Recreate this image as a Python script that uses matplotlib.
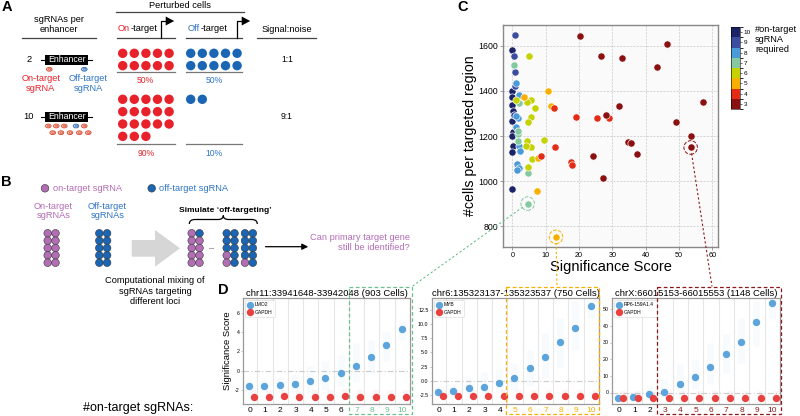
import matplotlib
matplotlib.use('Agg')
import matplotlib.pyplot as plt
import numpy as np
from matplotlib.patches import Circle, Rectangle, Polygon, Ellipse, PathPatch
from matplotlib.path import Path
import matplotlib.colors as mcolors
import matplotlib.cm as cm

plt.rcParams['font.family'] = ['Liberation Sans', 'DejaVu Sans']
plt.rcParams['axes.unicode_minus'] = False

# ---------------- DATA ----------------
# Panel A
sgrna_per_enhancer = [2, 10]
on_target_cells = [10, 18]
off_target_cells = [10, 2]
on_pct = ["50%", "90%"]
off_pct = ["50%", "10%"]
signal_noise = ["1:1", "9:1"]

# Panel B  (columns of 5 sgRNAs, 'P' = on-target, 'B' = off-target)
mix_group1 = ["PPPPP", "BPPPP"]
mix_group2 = ["BBBPP", "BBBBB"]
mix_group3 = ["BBBBP", "BBBBB"]

# Panel C: (significance score, #cells) by #on-target sgRNA required
c_x = {
    3: [20.3, 46.3, 26.5, 33.0, 43.5, 57.3, 31.9, 28.1, 49.0, 53.5, 53.5, 34.6, 35.7, 37.5, 24.2, 27.2],
    4: [29.0, 19.0, 25.5, 12.5, 12.7, 8.7, 17.7, 17.8],
    5: [10.6, 11.5, 7.5, 13.1, 3.4, 7.6],
    6: [4.9, 5.7, 1.2, 4.4, 6.9, 5.7, 4.7, 4.4, 9.5, 5.5, 4.2, 6.0, 4.7],
    7: [0.4, 2.0, 1.7, 1.7, 4.7, 4.6, 1.8],
    8: [1.0, 1.9, 1.7, 1.0, 2.0, 2.2, 1.4, 1.9, 1.4, 1.0],
    9: [0.7, 0.4, 0.8, 0.8, 0.6],
    10: [0.0, 0.0, 0.0, 0.0, 0.0, 0.2, 0.0, 0.2, 0.0, 0.0, 0.3],
}
c_y = {
    3: [1643, 1607, 1557, 1547, 1506, 1352, 1332, 1292, 1262, 1199, 1149, 1172, 1168, 1121, 1110, 1014],
    4: [1282, 1286, 1278, 1326, 1149, 1109, 1085, 1072],
    5: [1401, 1333, 954, 752, 1375, 1103],
    6: [1557, 1360, 1360, 1350, 1324, 1285, 1260, 1179, 1183, 1150, 1157, 1096, 1061],
    7: [1516, 1345, 1210, 1179, 1036, 900, 1222],
    8: [1435, 1380, 1282, 1239, 1156, 1135, 1075, 1060, 1050, 1290],
    9: [1650, 1557, 1485, 1422, 1293],
    10: [1582, 1400, 1372, 1338, 1267, 1219, 1200, 1156, 1130, 963, 1310],
}
c_colors = {10: '#1c2468', 9: '#3c4da0', 8: '#4c9bd9', 7: '#86c8a0',
            6: '#c4d200', 5: '#f8b000', 4: '#e42b15', 3: '#8a1111'}
highlight = [(4.6, 900, 7), (13.1, 752, 5), (53.5, 1149, 3)]

# Panel D
n_on = list(range(11))
lmo2 = [-1.6, -1.6, -1.5, -1.35, -1.1, -0.75, -0.2, 0.45, 1.4, 2.6, 4.25]
gapdh1 = [-2.7, -2.7, -2.65, -2.72, -2.7, -2.7, -2.6, -2.7, -2.7, -2.7, -2.7]
lmo2_lo = [-2.2, -2.2, -2.2, -2.2, -2.3, -2.0, -1.6, -1.2, -0.2, 1.0, 3.2]
lmo2_hi = [-1.0, -0.9, -0.7, -0.4, 0.5, 1.0, 1.6, 2.8, 3.2, 4.0, 5.0]
myb = [-2.05, -1.75, -1.35, -1.05, -0.37, 0.5, 2.3, 4.25, 6.9, 9.3, 13.2]
gapdh2 = [-2.75, -2.75, -2.75, -2.75, -2.75, -2.75, -2.75, -2.75, -2.75, -2.75, -2.75]
myb_lo = [-2.8, -2.6, -2.4, -2.2, -2.0, -1.8, -1.0, 0.5, 2.5, 5.5, 11.0]
myb_hi = [-1.0, -0.5, 0.5, 1.5, 2.0, 3.0, 5.5, 8.5, 11.0, 14.0, 14.3]
rp6 = [-3.0, -2.6, -1.0, 0.6, 4.9, 9.5, 15.2, 23.3, 30.6, 42.1, 53.7]
gapdh3 = [-3.0, -3.0, -3.0, -3.0, -3.0, -3.0, -3.0, -3.0, -3.0, -3.0, -3.0]
rp6_lo = [-4.0, -4.0, -3.5, -3.0, -2.0, 2.0, 5.0, 12.0, 18.0, 28.0, 45.0]
rp6_hi = [-1.0, 0.5, 4.0, 8.0, 17.0, 20.0, 30.0, 35.0, 45.0, 55.0, 56.0]
d_titles = ["chr11:33941648-33942048 (903 Cells)",
            "chr6:135323137-135323537 (750 Cells)",
            "chrX:66015153-66015553 (1148 Cells)"]
d_genes = ["LMO2", "MYB", "RP6-159A1.4"]
d_threshold = [7, 5, 3]

# ---------------- LAYOUT ----------------
W, H = 800, 416
fig = plt.figure(figsize=(8, 4.16), dpi=100)


def rect(l, t, r, b):
    return [l / W, 1 - b / H, (r - l) / W, (b - t) / H]


# ----- Panel C -----
axc = fig.add_axes(rect(503, 25, 718, 247))
axc.set_facecolor('#fafafa')
for k in [10, 9, 8, 7, 6, 5, 4, 3]:
    axc.scatter(c_x[k], c_y[k], s=27, color=c_colors[k], edgecolors='white',
                linewidths=0.45, zorder=3)
for hx, hy, hk in highlight:
    axc.scatter([hx], [hy], s=95, facecolors='none', edgecolors=c_colors[hk],
                linewidths=0.7, linestyles='--', zorder=4)
axc.set_xlim(-2.8, 61.7)
axc.set_ylim(707, 1693)
axc.set_xticks(range(0, 61, 10))
axc.set_yticks(range(800, 1601, 200))
axc.grid(True, color='#cfcfcf', ls=(0, (2.5, 1.5)), lw=0.6)
axc.set_axisbelow(True)
axc.tick_params(axis='x', labelsize=5.2, length=2, width=0.5, pad=1.5, color='#777')
axc.tick_params(axis='y', labelsize=6.3, length=2, width=0.5, pad=1.5, color='#777')
for s in axc.spines.values():
    s.set_color('#888888')
    s.set_linewidth(1.0)
axc.set_xlabel('Significance Score', fontsize=10.5, labelpad=0.5)
axc.set_ylabel('#cells per targeted region', fontsize=10.2, labelpad=1)

# colorbar
cax = fig.add_axes(rect(731, 27, 740, 109))
levels = list(range(3, 11))
cmap = mcolors.ListedColormap([c_colors[k] for k in levels])
norm = mcolors.BoundaryNorm(np.arange(2.5, 11.5, 1), cmap.N)
cb = fig.colorbar(cm.ScalarMappable(norm=norm, cmap=cmap), cax=cax, ticks=levels)
cb.ax.tick_params(labelsize=4.6, length=1.5, width=0.4, pad=1)
cb.outline.set_linewidth(0.4)

# ----- Panel D -----
d_boxes = [(243, 298, 410, 404), (432, 298, 599, 404), (612, 298, 780, 404)]
d_vals = [lmo2, myb, rp6]
d_gapdh = [gapdh1, gapdh2, gapdh3]
d_lo = [lmo2_lo, myb_lo, rp6_lo]
d_hi = [lmo2_hi, myb_hi, rp6_hi]
d_ylim = [(-3.45, 7.5), (-4.1, 14.6), (-6.9, 56.7)]
d_yticks = [[-2, 0, 2, 4, 6], [-2.5, 0, 2.5, 5, 7.5, 10, 12.5], [0, 10, 20, 30, 40, 50]]
d_yfmt = ['{:.0f}', '{:.1f}', '{:.0f}']
d_thr_color = ['#6cc08e', '#f5b000', '#8b1a1a']
blue_d = '#5ba4dc'
red_d = '#e8413f'
d_axes = []
for i in range(3):
    ax = fig.add_axes(rect(*d_boxes[i]))
    d_axes.append(ax)
    x = np.array(n_on)
    for b in x[:-1]:
        ax.axvline(b + 0.5, color='#e6e6e6', lw=0.8, zorder=0)
    ax.axhline(0, color='#cccccc', lw=0.8, ls=(0, (5, 2, 1, 2)), zorder=0)
    ax.vlines(x - 0.05, d_lo[i], d_hi[i], color=blue_d, alpha=0.045, lw=5, zorder=1)
    g = np.array(d_gapdh[i])
    span = (d_ylim[i][1] - d_ylim[i][0]) * 0.06
    ax.vlines(x + 0.25, g - span * 0.4, g + span, color=red_d, alpha=0.05, lw=4, zorder=1)
    ax.scatter(x - 0.05, d_vals[i], s=28, color=blue_d, label=d_genes[i], zorder=3, linewidths=0)
    ax.scatter(x + 0.25, g, s=28, color=red_d, label='GAPDH', zorder=3, linewidths=0)
    ax.set_xlim(-0.45, 10.5)
    ax.set_ylim(*d_ylim[i])
    ax.set_xticks(x)
    ax.set_xticklabels([str(v) for v in n_on])
    for lab, v in zip(ax.get_xticklabels(), n_on):
        if v >= d_threshold[i]:
            lab.set_color(d_thr_color[i])
    ax.set_yticks(d_yticks[i])
    ax.set_yticklabels([d_yfmt[i].format(v) for v in d_yticks[i]])
    ax.tick_params(axis='x', labelsize=6, length=0, pad=2)
    ax.tick_params(axis='y', labelsize=3.8, length=1.5, width=0.4, pad=1, color='#999')
    for s in ax.spines.values():
        s.set_color('#999999')
        s.set_linewidth(0.9)
    ax.set_title(d_titles[i], fontsize=6.8, pad=1.5)
    leg = ax.legend(loc='upper left', fontsize=3.6, markerscale=1.0, frameon=True,
                    borderpad=0.5, handletextpad=0.5, labelspacing=0.4,
                    borderaxespad=0.4, handlelength=1.0)
    leg.get_frame().set_linewidth(0.4)
    leg.get_frame().set_edgecolor('#cccccc')
d_axes[0].set_ylabel('Significance Score', fontsize=6.8, labelpad=2)

# ----- Overlay (schematics, labels, connectors) -----
ov = fig.add_axes([0, 0, 1, 1], zorder=10)
ov.set_xlim(0, W)
ov.set_ylim(H, 0)
ov.axis('off')
ov.patch.set_alpha(0)

RED = '#e8222a'
BLUE = '#2e74c4'
PURPLE = '#b36db5'
DBLUE = '#1a66b5'
FS = 6.7

# panel letters
for lab, px, py in [('A', 6.7, 6.7), ('B', 6.7, 182), ('C', 463, 7.3), ('D', 223, 290)]:
    ov.text(px, py, lab, fontsize=10.5, fontweight='bold', ha='center', va='center')

# --- Panel A headers ---
ov.text(59, 24.5, 'sgRNAs per\nenhancer', fontsize=FS, ha='center', va='center', linespacing=1.15)
ov.plot([22, 96], [37.7, 37.7], color='#444', lw=0.9)
ov.text(180, 5, 'Perturbed cells', fontsize=FS, ha='center', va='center')
ov.plot([116, 244], [11.7, 11.7], color='#444', lw=0.9)
t1 = ov.text(118, 33, 'On', fontsize=FS, color=RED, ha='left', va='bottom')
ov.annotate('-target', xy=(1, 0), xycoords=t1, fontsize=FS, ha='left', va='bottom')
t2 = ov.text(188, 33, 'Off', fontsize=FS, color=BLUE, ha='left', va='bottom')
ov.annotate('-target', xy=(1, 0), xycoords=t2, fontsize=FS, ha='left', va='bottom')
ov.text(287, 29, 'Signal:noise', fontsize=FS, ha='center', va='center')
ov.plot([256.7, 316], [37.7, 37.7], color='#444', lw=0.9)
for lx0, lx1, ax_ in [(116.7, 175, 160.7), (186, 242, 236.7)]:
    ov.plot([lx0, lx1], [37.7, 37.7], color='#444', lw=0.9)
    ov.plot([ax_, ax_, ax_ + 5], [37.7, 21, 21], color='black', lw=0.9)
    ov.add_patch(Polygon([[ax_ + 5, 16.5], [ax_ + 13.5, 21], [ax_ + 5, 25.5]], closed=True,
                         color='black', lw=0))

# rows
row_y0 = [53.3, 99.3]
row_line = [71.7, 144]
row_pct = [80.7, 154]
label_y = [59.5, 116.7]
for r in range(2):
    ov.text(29, label_y[r], str(sgrna_per_enhancer[r]), fontsize=FS, ha='center', va='center')
    by = label_y[r]
    ov.plot([41, 92], [by, by], color='black', lw=0.8)
    ov.add_patch(Rectangle((45, by - 5), 43.3, 10, color='black', lw=0))
    ov.text(66.6, by, 'Enhancer', fontsize=6.3, color='white', ha='center', va='center')
    for cnt, x0, col in [(on_target_cells[r], 122.7, RED), (off_target_cells[r], 190.7, DBLUE)]:
        for k in range(cnt):
            cx = x0 + (k % 5) * 11.6
            cy = row_y0[r] + (k // 5) * 12.35
            ov.add_patch(Circle((cx, cy), 4.7, color=col, lw=0))
    ov.plot([116.7, 175], [row_line[r]] * 2, color='#777', lw=0.9)
    ov.plot([186, 242], [row_line[r]] * 2, color='#777', lw=0.9)
    ov.text(145.7, row_pct[r], on_pct[r], fontsize=6.2, color=RED, ha='center', va='center')
    ov.text(214, row_pct[r], off_pct[r], fontsize=6.2, color=BLUE, ha='center', va='center')
    ov.text(287, label_y[r], signal_noise[r], fontsize=6.2, ha='center', va='center')


def sg(x, y, on):
    fc = '#f6c7bd' if on else '#bcd3ee'
    ec = '#d8442a' if on else '#2f68ad'
    ov.add_patch(Ellipse((x, y), 5.6, 3.8, facecolor=fc, edgecolor=ec, lw=0.6))
    ov.add_patch(Ellipse((x + 0.4, y), 2.6, 1.6, facecolor='none', edgecolor=ec, lw=0.4))


sg(49.3, 69.3, True)
sg(84.3, 69.3, False)
ov.text(40.7, 83.5, 'On-target\nsgRNA', fontsize=FS, color=RED, ha='center', va='center', linespacing=1.1)
ov.text(88.3, 83.5, 'Off-target\nsgRNA', fontsize=FS, color=BLUE, ha='center', va='center', linespacing=1.1)
row2a = [48.3, 56.3, 64.3, 76, 84.3]
row2b = [52.7, 61, 70, 79.3, 88.3]
for j, xx in enumerate(row2a):
    sg(xx, 126, j != 3)
for xx in row2b:
    sg(xx, 132.7, True)

# --- Panel B ---
ov.add_patch(Circle((45, 188.3), 3.8, facecolor=PURPLE, edgecolor='#333', lw=0.4))
ov.text(53.3, 188.3, 'on-target sgRNA', fontsize=FS, color=PURPLE, ha='left', va='center')
ov.add_patch(Circle((151.7, 188.3), 3.8, facecolor=DBLUE, edgecolor='#333', lw=0.4))
ov.text(159, 188.3, 'off-target sgRNA', fontsize=FS, color=BLUE, ha='left', va='center')
ov.text(53.3, 211, 'On-target\nsgRNAs', fontsize=FS, color=PURPLE, ha='center', va='center', linespacing=1.1)
ov.text(107.3, 211, 'Off-target\nsgRNAs', fontsize=FS, color=BLUE, ha='center', va='center', linespacing=1.1)

rows_b = [233.3, 240.7, 248, 255.3, 262.7]


def grid(x0, cols):
    for ci, colstr in enumerate(cols):
        for ri, ch in enumerate(colstr):
            fc = PURPLE if ch == 'P' else DBLUE
            ov.add_patch(Circle((x0 + ci * 7.8, rows_b[ri]), 3.8, facecolor=fc, edgecolor='#333', lw=0.4))


grid(47.7, ["PPPPP", "PPPPP"])
grid(99.3, ["BBBBB", "BBBBB"])
grid(191.7, mix_group1)
grid(226.7, mix_group2)
grid(245, mix_group3)
ov.add_patch(Polygon([[131.7, 240], [155, 240], [155, 230], [180, 248.3], [155, 266.7],
                      [155, 256.7], [131.7, 256.7]], closed=True, color='#d6d6d6', lw=0))
ov.plot([208.5, 213], [248.3, 248.3], color='#aaa', lw=0.8)
ov.text(225, 210.7, 'Simulate \u2018off-targeting\u2019', fontsize=6, fontweight='bold', ha='center', va='center')
brace = Path([(189.3, 224), (189.3, 219.5), (195, 219.5), (218, 219.5), (223.3, 219.5), (223.3, 215.5),
              (223.3, 219.5), (228.6, 219.5), (251.6, 219.5), (257.3, 219.5), (257.3, 224)],
             [Path.MOVETO, Path.CURVE3, Path.CURVE3, Path.LINETO, Path.CURVE3, Path.CURVE3,
              Path.CURVE3, Path.CURVE3, Path.LINETO, Path.CURVE3, Path.CURVE3])
ov.add_patch(PathPatch(brace, facecolor='none', edgecolor='black', lw=0.9))
ov.annotate('', xy=(311, 246.7), xytext=(262.7, 246.7),
            arrowprops=dict(arrowstyle='-|>', color='black', lw=0.9, mutation_scale=9))
ov.text(410, 242.5, 'Can primary target gene\nstill be identified?', fontsize=FS, color=PURPLE,
        ha='right', va='center', linespacing=1.2, clip_on=False)
ov.text(155, 291, 'Computational mixing of\nsgRNAs targeting\ndifferent loci', fontsize=FS,
        ha='center', va='center', linespacing=1.15)

# --- Panel C legend title ---
ov.text(755, 24.5, '#on-target\nsgRNA\nrequired', fontsize=6.6, ha='left', va='top', linespacing=1.15)

# --- Panel D label & boxes ---
ov.text(193, 408.5, '#on-target sgRNAs:', fontsize=9, ha='right', va='center')
box_specs = [(349, 412, d_thr_color[0]), (506, 599, d_thr_color[1]), (657, 781, d_thr_color[2])]
targets = [(412, 286.5), (557, 286.5), (712, 286.5)]
for (bl, br, col), (hx, hy, hk), (tx, ty) in zip(box_specs, highlight, targets):
    ov.add_patch(Rectangle((bl, 286.5), br - bl, 414 - 286.5, facecolor='none', edgecolor=col,
                           lw=0.9, ls=(0, (3, 2))))
    dx, dy = axc.transData.transform((hx, hy))
    cx, cy = dx, H - dy
    v = np.array([tx - cx, ty - cy])
    v = v / np.hypot(*v)
    ov.plot([cx + v[0] * 6, tx], [cy + v[1] * 6, ty], color=col, lw=0.8, ls=(0, (2, 2)))

fig.savefig('out.png', dpi=100, facecolor='white')
